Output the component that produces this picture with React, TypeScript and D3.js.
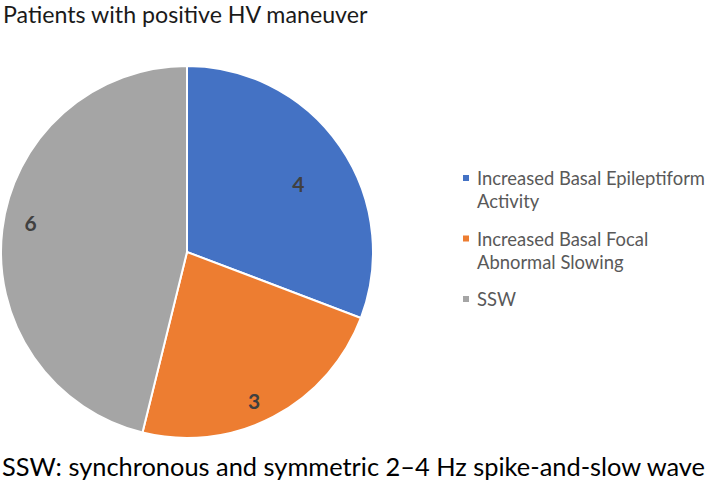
import React from "react";
import * as d3 from "d3";

const categories = [
  "Increased Basal Epileptiform Activity",
  "Increased Basal Focal Abnormal Slowing",
  "SSW",
];
const values = [4, 3, 6];
const legendLines = [
  ["Increased Basal Epileptiform", "Activity"],
  ["Increased Basal Focal", "Abnormal Slowing"],
  ["SSW"],
];
const colors = ["#4472C4", "#ED7D31", "#A5A5A5"];
const title = "Patients with positive HV maneuver";
const caption = "SSW: synchronous and symmetric 2\u20134 Hz spike-and-slow wave";

const W = 709;
const H = 494;
const cx = 187;
const cy = 252;
const R = 186;
const labelRadiusFactor = [0.7, 0.88, 0.855];
const labelAngleShift = (3.5 * Math.PI) / 180;
const FONT = "Lato, 'Open Sans', sans-serif";

export default function App() {
  const pie = d3
    .pie<number>()
    .sort(null)
    .value((d) => d);
  const arcs = pie(values);
  const arcGen = d3.arc<d3.PieArcDatum<number>>().innerRadius(0).outerRadius(R);

  const legendX = 477;
  const legendY0 = 185;
  const lineH = 23;
  const groupGap = 14.5;
  let y = legendY0;
  const legendItems = legendLines.map((lines, i) => {
    const item = { y, lines, color: colors[i], name: categories[i] };
    y += lines.length * lineH + groupGap;
    return item;
  });

  return (
    <svg
      width={W}
      height={H}
      style={{ position: "absolute", left: 0, top: 0, display: "block", background: "#fff" }}
      fontFamily={FONT}
    >
      <text x={3} y={22.5} fontSize={23.2} fill="#1a1a1a">
        {title}
      </text>
      <g transform={`translate(${cx},${cy})`}>
        {arcs.map((a, i) => (
          <path key={i} d={arcGen(a) || ""} fill={colors[i]} stroke="#fff" strokeWidth={2} />
        ))}
        {arcs.map((a, i) => {
          const lr = R * labelRadiusFactor[i];
          const ang = (a.startAngle + a.endAngle) / 2 + labelAngleShift;
          const x = lr * Math.sin(ang);
          const yy = -lr * Math.cos(ang);
          return (
            <text
              key={"l" + i}
              x={x}
              y={yy}
              dy="0.36em"
              textAnchor="middle"
              fontSize={21}
              fontWeight="bold"
              fill="#404040"
            >
              {values[i]}
            </text>
          );
        })}
      </g>
      {legendItems.map((it, i) => (
        <g key={"lg" + i}>
          <rect x={legendX - 14} y={it.y - 10} width={6} height={6} fill={it.color} />
          {it.lines.map((ln, j) => (
            <text key={j} x={legendX} y={it.y + j * lineH} fontSize={18.4} fill="#595959">
              {ln}
            </text>
          ))}
        </g>
      ))}
      <text x={2} y={476} fontSize={25.4} fill="#000">
        {caption}
      </text>
    </svg>
  );
}
